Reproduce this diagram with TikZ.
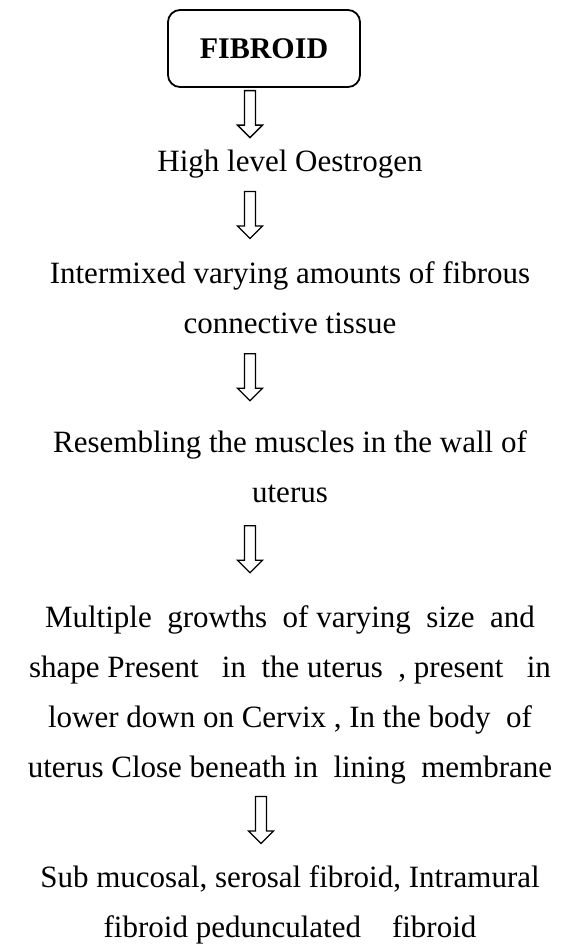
\documentclass[tikz,border=0pt]{standalone}
\usepackage{fontspec}
\setmainfont{Liberation Serif}
\usepackage{tikz}
\usetikzlibrary{calc}

\begin{document}
\begin{tikzpicture}[x=1pt, y=-1pt,
    every node/.style={inner sep=0pt, align=center, font=\fontsize{31}{50}\selectfont},
    titlebox/.style={draw, line width=1.8pt, rounded corners=12pt, minimum width=192pt, minimum height=77pt, font=\fontsize{30}{36}\selectfont\bfseries},
    stage/.style={anchor=base},
    hollow/.style={line width=1.3pt, line join=miter, to path={
        let \p1=(\tikztostart.south), \p2=(\tikztotarget.north), \p3=($(\p1)!0.5!(\p2)$) in
        (#1-5.5pt,\y3+28pt) -- (#1-5.5pt,\y3-6.5pt) -- (#1-12.5pt,\y3-6.5pt) -- (#1,\y3-19pt)
        -- (#1+12.5pt,\y3-6.5pt) -- (#1+5.5pt,\y3-6.5pt) -- (#1+5.5pt,\y3+28pt) -- cycle}},
]
\useasboundingbox (0,0) rectangle (579,946);

% Title box
\node[titlebox] (fib) at (264,48.5) {FIBROID};

% Stages (placed by the baseline of their last line)
\node[stage] (oes) at (290,171) {High level Oestrogen};
\node[stage] (mix) at (290,333) {Intermixed varying amounts of fibrous\\connective tissue};
\node[stage] (res) at (290,502) {Resembling the muscles in the wall of\\uterus};
\node[stage] (grow) at (290,777) {Multiple\ \ growths\ \ of varying\ \ size\ \ and\\
    shape Present\ \ \ in\ \ the uterus\ \ , present\ \ \ in\\
    lower down on Cervix , In the body\ \ of\\
    uterus Close beneath in\ \ lining\ \ membrane};
\node[stage] (kind) at (290,937) {Sub mucosal, serosal fibroid, Intramural\\fibroid pedunculated\ \ \ \ fibroid};

% Arrows
\draw[hollow=250pt] (fib) to (oes);
\draw[hollow=250pt] (oes) to (mix);
\draw[hollow=250pt] (mix) to (res);
\draw[hollow=250pt] (res) to (grow);
\draw[hollow=261pt] (grow) to (kind);

\end{tikzpicture}
\end{document}
